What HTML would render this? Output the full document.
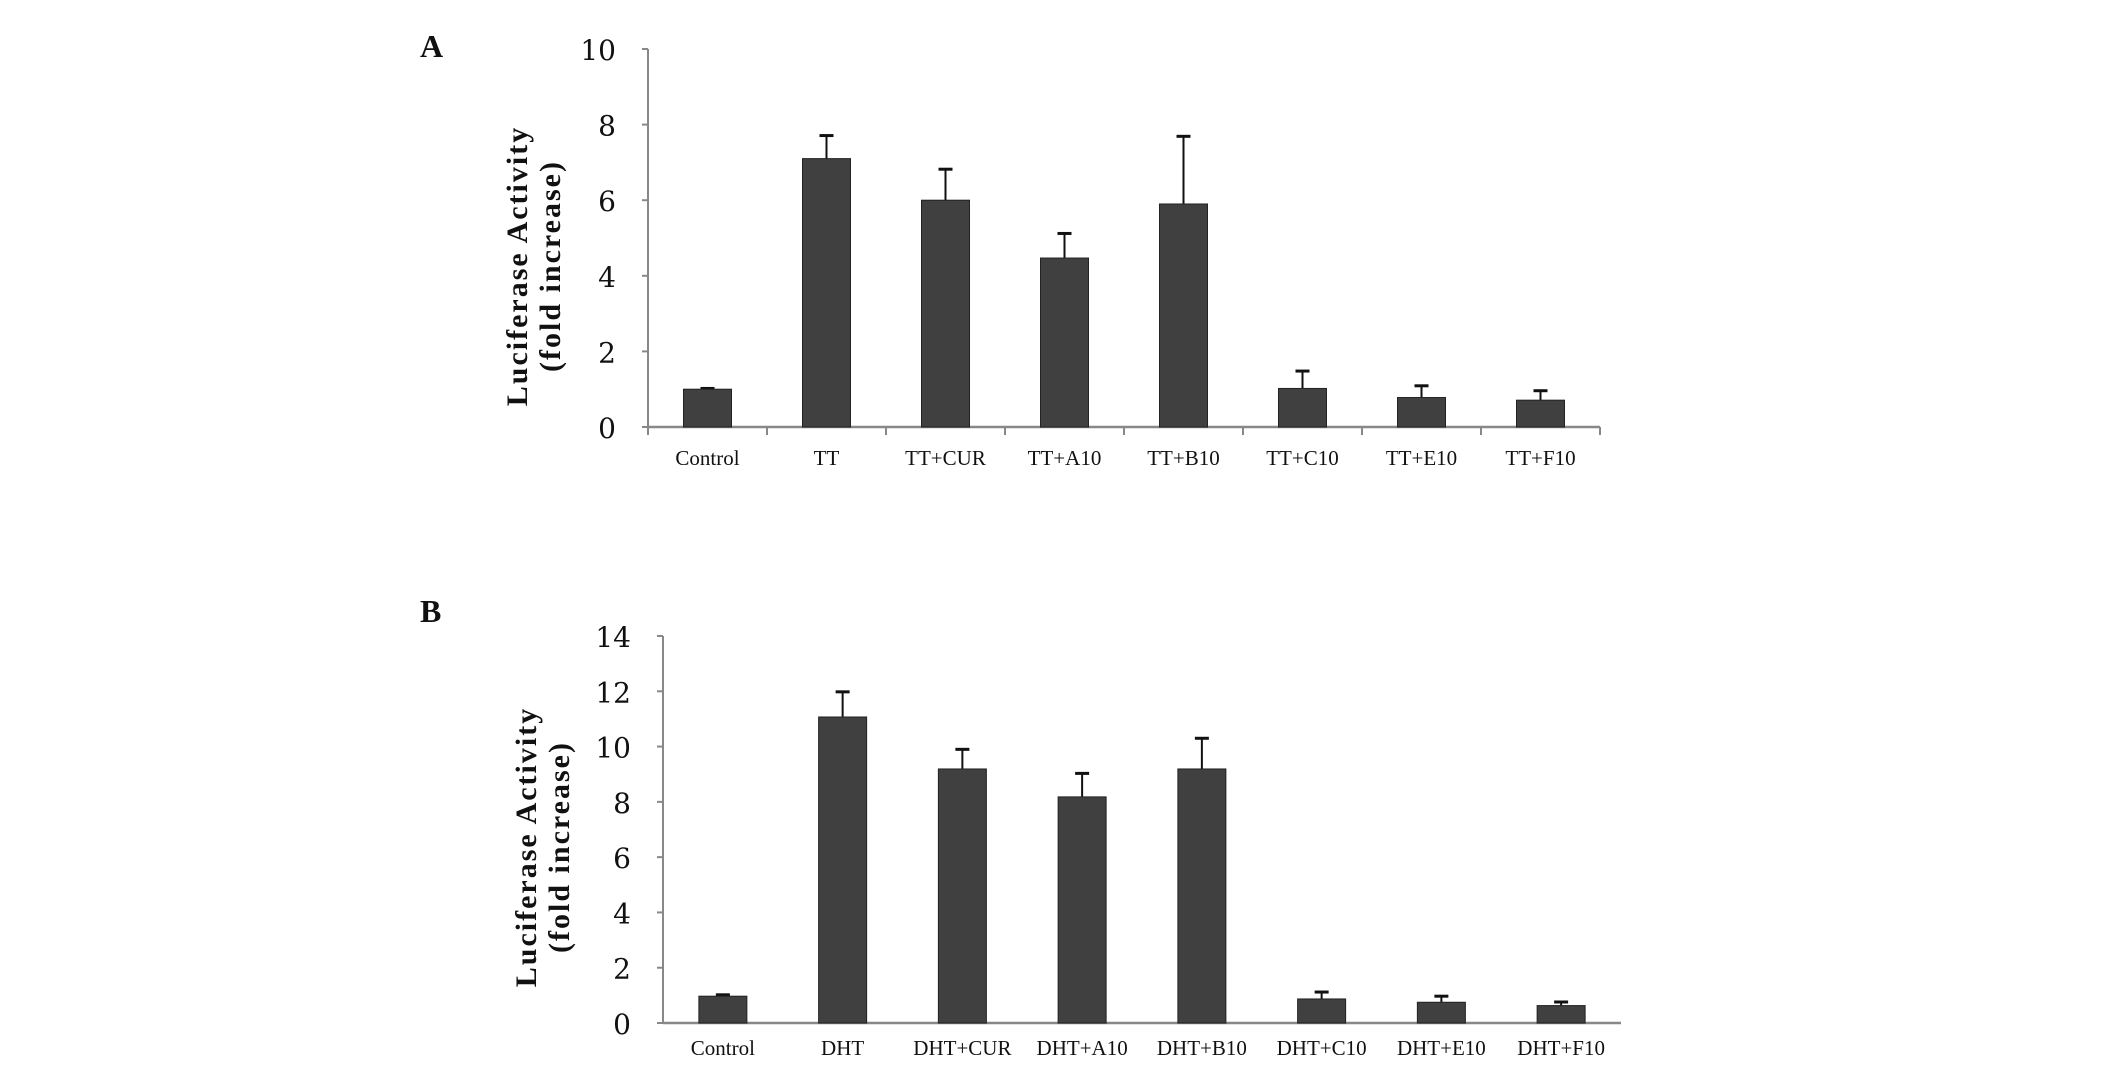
<!DOCTYPE html>
<html><head><meta charset="utf-8"><style>
html,body{margin:0;padding:0;background:#fff;}
svg{display:block;}
</style></head><body>
<svg id="fig" width="2126" height="1067" viewBox="0 0 2126 1067" xmlns="http://www.w3.org/2000/svg"></svg>
<script>
const catsA = ["Control","TT","TT+CUR","TT+A10","TT+B10","TT+C10","TT+E10","TT+F10"];
const valsA = [1.0,7.1,6.0,4.47,5.9,1.02,0.78,0.71];
const errA = [0.02,0.61,0.82,0.65,1.79,0.46,0.31,0.25];
const ticksA = [0,2,4,6,8,10];
const catsB = ["Control","DHT","DHT+CUR","DHT+A10","DHT+B10","DHT+C10","DHT+E10","DHT+F10"];
const valsB = [0.97,11.07,9.19,8.18,9.19,0.87,0.75,0.63];
const errB = [0.05,0.91,0.71,0.85,1.11,0.25,0.22,0.13];
const ticksB = [0,2,4,6,8,10,12,14];

const NS="http://www.w3.org/2000/svg";
const svg=document.getElementById('fig');
function mk(tag,attrs,parent){const e=document.createElementNS(NS,tag);for(const k in attrs)e.setAttribute(k,attrs[k]);(parent||svg).appendChild(e);return e;}

function panel(id,letter,letterPos,cats,vals,errs,ticks,box,titlePos){
  const g=mk('g',{});
  
  
  const x0=box.x0,x1=box.x1,yb=box.y0,yt=box.y1,ymax=ticks[ticks.length-1];
  const y=v=>yb-(v/ymax)*(yb-yt);
  const bw=(x1-x0)/cats.length;
  const L=mk('text',{x:letterPos[0],y:letterPos[1],'font-family':'Liberation Serif, serif','font-size':32,'font-weight':'bold',fill:'#111'},g);
  L.textContent=letter;
  
  
  const ya=mk('line',{x1:x0,y1:yt,x2:x0,y2:yb,stroke:'#888','stroke-width':2},g);
  
  
  const xa=mk('line',{x1:x0,y1:yb,x2:x1,y2:yb,stroke:'#888','stroke-width':2.5},g);
  
  
  ticks.forEach(t=>{
    mk('line',{x1:x0-6,y1:y(t),x2:x0,y2:y(t),stroke:'#888','stroke-width':2},g);
    const tx=mk('text',{x:x0-32,y:y(t)+11,'text-anchor':'end','font-family':'DejaVu Serif, Liberation Serif, serif','font-size':28,fill:'#111'},g);
    tx.textContent=t;
    
    
  });
  if(box.catTicks){for(let i=0;i<=cats.length;i++){mk('line',{x1:x0+i*bw,y1:yb,x2:x0+i*bw,y2:yb+8,stroke:'#888','stroke-width':2},g);}}
  cats.forEach((c,i)=>{
    const cx=x0+(i+0.5)*bw;
    const bwid=48;
    const et=y(vals[i]+errs[i]);
    const el=mk('line',{x1:cx,y1:y(vals[i]),x2:cx,y2:et,stroke:'#111','stroke-width':2},g);
    
    
    mk('line',{x1:cx-7,y1:et,x2:cx+7,y2:et,stroke:'#111','stroke-width':3},g);
    const r=mk('rect',{x:cx-bwid/2,y:y(vals[i]),width:bwid,height:yb-y(vals[i]),fill:'#404040',stroke:'#222','stroke-width':1},g);
    
    
    const lab=mk('text',{x:cx,y:box.labY,'text-anchor':'middle','font-family':'Liberation Serif, serif','font-size':21,fill:'#111'},g);
    lab.textContent=c;
    
    
  });
  const tt=mk('text',{transform:`translate(${titlePos[0]},${titlePos[1]}) rotate(-90)`,'text-anchor':'middle','font-family':'Liberation Serif, serif','font-size':30,'font-weight':'bold','letter-spacing':2,fill:'#111'},g);
  
  
  const t1=mk('tspan',{x:0,y:0},tt);t1.textContent='Luciferase Activity';
  const t2=mk('tspan',{x:0,y:33},tt);t2.textContent='(fold increase)';
}
panel('a','A',[420,57],catsA,valsA,errA,ticksA,{x0:648,x1:1600,y0:427,y1:49,labY:465,catTicks:true},[527,266]);
panel('b','B',[420,622],catsB,valsB,errB,ticksB,{x0:663,x1:1621,y0:1023,y1:636,labY:1055,catTicks:false},[536,847]);
</script>
</body></html>
